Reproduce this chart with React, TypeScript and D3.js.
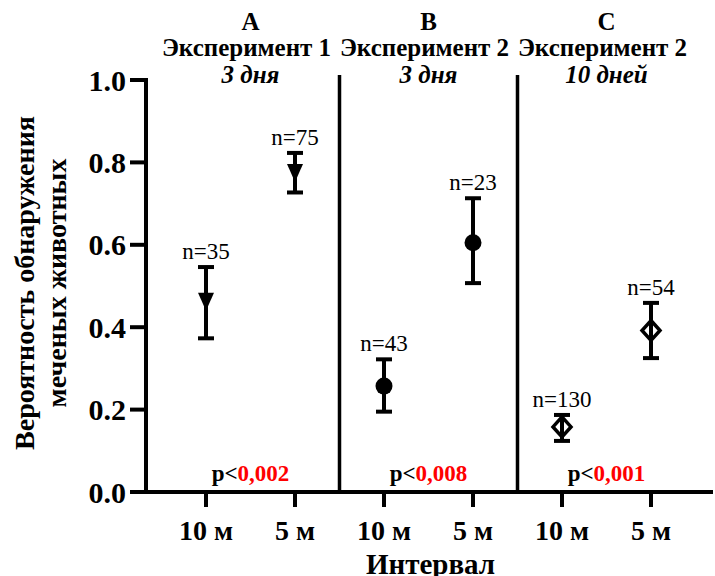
import { useMemo } from "react";
import * as d3 from "d3";

const W = 715;
const H = 576;
const FONT = '"Liberation Serif", "Times New Roman", Times, serif';

const GROUP_LETTERS = ["A", "B", "C"];
const EXPERIMENTS = ["Эксперимент 1", "Эксперимент 2", "Эксперимент 2"];
const DURATIONS = ["3 дня", "3 дня", "10 дней"];
const P_VALUES = ["0,002", "0,008", "0,001"];
const SYMBOLS = ["triangleDown", "circle", "diamondOpen"];

const INTERVALS = ["10 м", "5 м", "10 м", "5 м", "10 м", "5 м"];
const MEANS = [0.462, 0.774, 0.257, 0.605, 0.158, 0.392];
const UPPER = [0.546, 0.823, 0.322, 0.713, 0.187, 0.459];
const LOWER = [0.373, 0.727, 0.195, 0.507, 0.124, 0.325];
const N_COUNTS = [35, 75, 43, 23, 130, 54];

const Y_TICKS = [0, 0.2, 0.4, 0.6, 0.8, 1.0];

const AXIS_X = 146;
const AXIS_Y = 492;
const TOP_Y = 80;
const RIGHT_X = 713;

const txt = (size: number, bold = true, italic = false) => ({
  fontFamily: FONT,
  fontSize: `${size}px`,
  fontWeight: bold ? 700 : 400,
  fontStyle: italic ? "italic" : "normal",
});

function Marker({ kind, cx, cy }: { kind: string; cx: number; cy: number }) {
  if (kind === "triangleDown") {
    return (
      <path
        d={`M${cx - 8},${cy - 9}L${cx + 8},${cy - 9}L${cx},${cy + 9}Z`}
        fill="#000"
      />
    );
  }
  if (kind === "circle") {
    return <circle cx={cx} cy={cy} r={8.5} fill="#000" />;
  }
  return (
    <path
      d={`M${cx},${cy - 10}L${cx + 9},${cy}L${cx},${cy + 10}L${cx - 9},${cy}Z`}
      fill="#fff"
      stroke="#000"
      strokeWidth={3.5}
    />
  );
}

export default function App() {
  const { x, y, points } = useMemo(() => {
    const keys = INTERVALS.map((_, i) => String(i));
    const x = d3.scalePoint<string>().domain(keys).range([206, 651]);
    const y = d3.scaleLinear().domain([0, 1]).range([AXIS_Y, TOP_Y]);
    const points = keys.map((k, i) => ({
      key: k,
      cx: x(k) ?? 0,
      mean: y(MEANS[i]),
      hi: y(UPPER[i]),
      lo: y(LOWER[i]),
      n: N_COUNTS[i],
      label: INTERVALS[i],
      symbol: SYMBOLS[Math.floor(i / 2)],
    }));
    return { x, y, points };
  }, []);

  const step = x.step();
  const groupCenters = GROUP_LETTERS.map(
    (_, g) => (points[g * 2].cx + points[g * 2 + 1].cx) / 2,
  );
  const dividers = [1, 2].map((g) => points[g * 2].cx - step / 2);

  return (
    <svg
      width={W}
      height={H}
      viewBox={`0 0 ${W} ${H}`}
      style={{ position: "absolute", left: 0, top: 0, background: "#fff", fontFamily: FONT }}
    >
      {/* group titles */}
      {GROUP_LETTERS.map((g, i) => (
        <g key={g} textAnchor="middle">
          <text x={groupCenters[i]} y={30} style={txt(25)}>
            {g}
          </text>
          <text x={groupCenters[i] - 4} y={56} style={txt(25)}>
            {EXPERIMENTS[i]}
          </text>
          <text x={groupCenters[i]} y={83} style={txt(25, true, true)}>
            {DURATIONS[i]}
          </text>
        </g>
      ))}

      {/* dividers */}
      {dividers.map((d, i) => (
        <line
          key={i}
          x1={d}
          x2={d}
          y1={75}
          y2={AXIS_Y}
          stroke="#000"
          strokeWidth={3.5}
        />
      ))}

      {/* y axis */}
      <line
        x1={AXIS_X}
        x2={AXIS_X}
        y1={y(1) - 2}
        y2={AXIS_Y + 2}
        stroke="#000"
        strokeWidth={4}
      />
      {Y_TICKS.map((t) => (
        <g key={t}>
          <line
            x1={130}
            x2={AXIS_X}
            y1={y(t)}
            y2={y(t)}
            stroke="#000"
            strokeWidth={4}
          />
          <text
            x={126}
            y={y(t)}
            dy="0.35em"
            textAnchor="end"
            style={txt(30)}
          >
            {d3.format(".1f")(t)}
          </text>
        </g>
      ))}

      {/* x axis */}
      <line
        x1={AXIS_X - 2}
        x2={RIGHT_X}
        y1={AXIS_Y}
        y2={AXIS_Y}
        stroke="#000"
        strokeWidth={4}
      />
      {points.map((p) => (
        <g key={p.key}>
          <line
            x1={p.cx}
            x2={p.cx}
            y1={AXIS_Y}
            y2={AXIS_Y + 15}
            stroke="#000"
            strokeWidth={4}
          />
          <text x={p.cx} y={540} textAnchor="middle" style={txt(28)}>
            {p.label}
          </text>
        </g>
      ))}

      {/* axis titles */}
      <text
        x={x.range()[0] + (x.range()[1] - x.range()[0]) / 2 + 2}
        y={574}
        textAnchor="middle"
        style={txt(29)}
      >
        Интервал
      </text>
      <g transform="translate(0,283) rotate(-90)" textAnchor="middle">
        <text x={0} y={34} style={txt(28)}>
          Вероятность обнаружения
        </text>
        <text x={0} y={66} style={txt(28)}>
          меченых животных
        </text>
      </g>

      {/* p-values */}
      {P_VALUES.map((p, i) => (
        <text
          key={i}
          x={groupCenters[i]}
          y={481}
          textAnchor="middle"
          style={txt(23)}
        >
          p&lt;<tspan fill="#ff0000">{p}</tspan>
        </text>
      ))}

      {/* points with error bars */}
      {points.map((p) => (
        <g key={`pt${p.key}`}>
          {p.symbol === "diamondOpen" && (
            <Marker kind={p.symbol} cx={p.cx} cy={p.mean} />
          )}
          <g stroke="#000" strokeWidth={4}>
            <line x1={p.cx} x2={p.cx} y1={p.hi} y2={p.lo} />
            <line x1={p.cx - 8} x2={p.cx + 8} y1={p.hi} y2={p.hi} />
            <line x1={p.cx - 8} x2={p.cx + 8} y1={p.lo} y2={p.lo} />
          </g>
          {p.symbol !== "diamondOpen" && (
            <Marker kind={p.symbol} cx={p.cx} cy={p.mean} />
          )}
          <text
            x={p.cx}
            y={p.hi - 8}
            textAnchor="middle"
            style={txt(23, false)}
          >
            n={p.n}
          </text>
        </g>
      ))}
    </svg>
  );
}
